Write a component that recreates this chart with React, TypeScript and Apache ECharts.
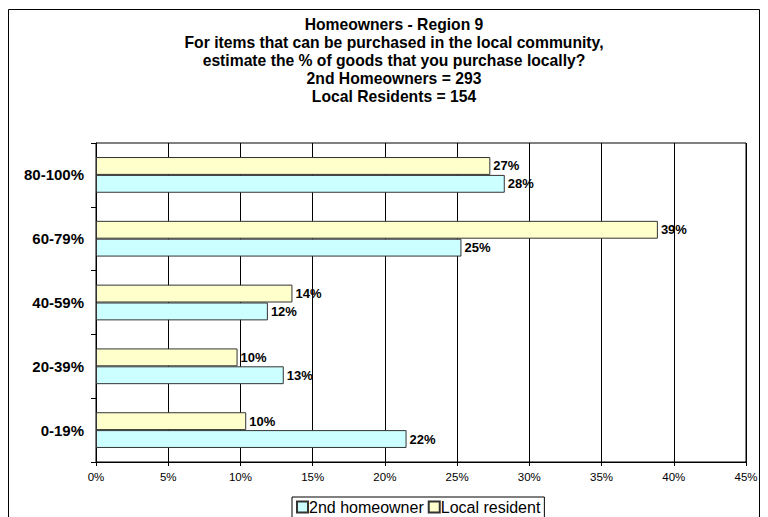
import React, { useEffect, useRef } from "react";
import * as echarts from "echarts";

const categories = ["0-19%", "20-39%", "40-59%", "60-79%", "80-100%"];
const localResident = [10.4, 9.8, 13.6, 38.9, 27.3];
const secondHomeowner = [21.5, 13.0, 11.9, 25.3, 28.3];
const titleLines = [
  "Homeowners - Region 9",
  "For items that can be purchased in the local community,",
  "estimate the % of goods that you purchase locally?",
  "2nd Homeowners = 293",
  "Local Residents = 154",
];

export default function App() {
  const ref = useRef<HTMLDivElement>(null);
  useEffect(() => {
    if (!ref.current) return;
    const chart = echarts.init(ref.current, null, { renderer: "svg" });
    const font = "Arial, 'Liberation Sans', sans-serif";
    const label = {
      show: true,
      position: "right",
      distance: 3,
      fontFamily: font,
      fontWeight: "bold",
      fontSize: 13,
      color: "#000",
      formatter: (p: any) => Math.round(p.value) + "%",
    };
    chart.setOption({
      animation: false,
      backgroundColor: "#fff",
      textStyle: { fontFamily: font },
      title: {
        text: titleLines.join("\n"),
        left: 389,
        textAlign: "center",
        top: 10,
        textStyle: {
          fontFamily: font,
          fontWeight: "bold",
          fontSize: 15.7,
          lineHeight: 18,
          color: "#000",
        },
      },
      graphic: [
        {
          type: "rect",
          shape: { x: 8.5, y: 9.5, width: 751, height: 530 },
          style: { fill: "none", stroke: "#000", lineWidth: 1 },
          silent: true,
        },
      ],
      legend: {
        data: ["2nd homeowner", "Local resident"],
        left: 292,
        top: 497,
        padding: [2, 4, 6, 4],
        itemGap: 4,
        itemWidth: 11,
        itemHeight: 11,
        borderColor: "#000",
        borderWidth: 1,
        backgroundColor: "#fff",
        icon: "rect",
        textStyle: { fontFamily: font, fontSize: 16, color: "#000", padding: [0, 0, 0, -4] },
      },
      grid: {
        left: 96,
        right: 22,
        top: 143,
        bottom: 55,
        show: true,
        borderColor: "#000",
        borderWidth: 1,
        backgroundColor: "transparent",
      },
      xAxis: {
        type: "value",
        min: 0,
        max: 45,
        interval: 5,
        axisLine: { show: true, lineStyle: { color: "#000" } },
        axisTick: { show: true, length: 4, lineStyle: { color: "#000" } },
        splitLine: { show: true, lineStyle: { color: "#000", width: 1 } },
        axisLabel: {
          formatter: (v: number) => v + "%",
          fontSize: 11.5,
          color: "#000",
          margin: 9,
          fontFamily: font,
        },
      },
      yAxis: {
        type: "category",
        data: categories,
        axisLine: { show: true, lineStyle: { color: "#000" } },
        axisTick: { show: true, length: 5, interval: 0, lineStyle: { color: "#000" } },
        axisLabel: {
          fontFamily: font,
          fontWeight: "bold",
          fontSize: 15,
          color: "#000",
          margin: 12,
        },
      },
      series: [
        {
          name: "Local resident",
          type: "bar",
          data: localResident,
          barGap: "0%",
          barCategoryGap: "44%",
          itemStyle: { color: "#FFFFCC", borderColor: "#333", borderWidth: 1 },
          label,
        },
        {
          name: "2nd homeowner",
          type: "bar",
          data: secondHomeowner,
          barGap: "0%",
          barCategoryGap: "44%",
          itemStyle: { color: "#CCFFFF", borderColor: "#333", borderWidth: 1 },
          label,
        },
      ],
    });
    return () => chart.dispose();
  }, []);
  return (
    <div
      ref={ref}
      style={{ position: "fixed", left: 0, top: 0, width: 768, height: 517 }}
    />
  );
}
